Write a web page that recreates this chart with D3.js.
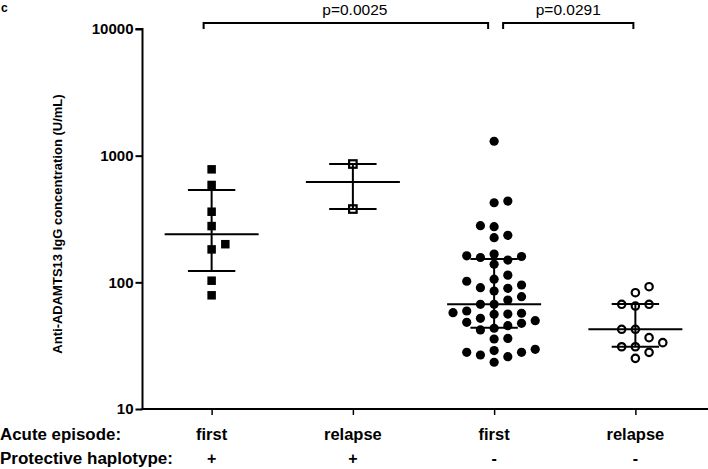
<!DOCTYPE html>
<html>
<head>
<meta charset="utf-8">
<script src="https://cdn.jsdelivr.net/npm/d3@7"></script>
<style>
  html, body { margin: 0; padding: 0; background: #fff; }
  svg { display: block; }
  text { font-family: "Liberation Sans", Arial, Helvetica, sans-serif; fill: #000; }
</style>
</head>
<body>
<svg id="chart" width="708" height="469"></svg>
<script>
// ---- data ----
const groups = ["g1", "g2", "g3", "g4"];
const episodeLabels = ["first", "relapse", "first", "relapse"];
const haplotypeLabels = ["+", "+", "-", "-"];
const yTicks = [10, 100, 1000, 10000];

const g1Values = [780, 587, 361, 278, 200, 182, 103, 79];
const g2Values = [859, 379];
const g3Values = [1300, 438, 425, 280, 275, 235, 225, 167, 162, 160, 157, 150, 139,
  114, 106, 102, 95.3, 90.7, 89.7, 85.4, 77, 72.5, 67.1, 67.1, 59.4, 57.6, 57, 56.2,
  55.9, 52, 49.8, 48.3, 47.5, 45.5, 43.4, 42.1, 36.1, 35.7, 29.6, 28.9, 28, 28, 26.7,
  25.9, 23.4];
const g4Values = [92.4, 82.8, 67.1, 67.1, 65, 42.6, 42.6, 36.6, 33.4, 31, 31, 28, 25.1];

const medians = [240, 620, 67, 42.6];
const lowerBars = [123, 379, 43.8, 31];
const upperBars = [536, 859, 153, 67.3];

const comparisons = [
  { from: "g1", to: "g3", label: "p=0.0025" },
  { from: "g3", to: "g4", label: "p=0.0291" }
];

// ---- layout ----
const svg = d3.select("#chart");
const x = d3.scalePoint().domain(groups).range([141, 706]).padding(0.5);
const y = d3.scaleLog().domain([10, 10000]).range([409, 29]);
const axisX = 142.5;

// y axis
const yAxis = d3.axisLeft(y).tickValues(yTicks).tickFormat(d3.format("d")).tickSize(7).tickPadding(2);
const ya = svg.append("g").attr("transform", `translate(${axisX},0)`).call(yAxis);
ya.select(".domain").attr("stroke", "#000").attr("stroke-width", 2).attr("d", `M-7,${y(10000)}H0V${y(10)}`);
ya.selectAll(".tick line").attr("stroke", "#000").attr("stroke-width", 2);
ya.selectAll(".tick text").style("font-size", "15px").style("font-weight", "bold")
  .style("font-family", "'Liberation Sans', Arial, sans-serif");

// x axis
const xAxis = d3.axisBottom(x).tickSize(6).tickFormat("");
const xa = svg.append("g").attr("transform", `translate(0,${y(10)})`).call(xAxis);
xa.select(".domain").attr("stroke", "#000").attr("stroke-width", 2).attr("d", `M${axisX - 1},0H708`);
xa.selectAll(".tick line").attr("stroke", "#000").attr("stroke-width", 1.5);

// y label
svg.append("text")
  .attr("transform", `translate(62,224) rotate(-90)`)
  .attr("text-anchor", "middle")
  .style("font-size", "13px").style("font-weight", "bold")
  .text("Anti-ADAMTS13 IgG concentration (U/mL)");

// panel label
svg.append("text").attr("x", 1).attr("y", 12).style("font-size", "12px").style("font-weight", "bold").text("c");

// bottom labels
const rowFont = "'Liberation Sans Narrow', 'Arial Narrow', 'Liberation Sans', Arial, sans-serif";
svg.append("text").attr("x", 0).attr("y", 440).style("font-size", "16px").style("font-weight", "bold")
  .style("font-family", rowFont).attr("textLength", 121).attr("lengthAdjust", "spacingAndGlyphs")
  .text("Acute episode:");
svg.append("text").attr("x", 0).attr("y", 464).style("font-size", "16px").style("font-weight", "bold")
  .style("font-family", rowFont).attr("textLength", 173).attr("lengthAdjust", "spacingAndGlyphs")
  .text("Protective haplotype:");
svg.selectAll(".ep").data(groups).enter().append("text")
  .attr("x", d => x(d)).attr("y", 440).attr("text-anchor", "middle")
  .style("font-size", "16.5px").style("font-weight", "bold").style("font-family", rowFont)
  .text((d, i) => episodeLabels[i]);
svg.selectAll(".hp").data(groups).enter().append("text")
  .attr("x", d => x(d)).attr("y", 464).attr("text-anchor", "middle")
  .style("font-size", "16px").style("font-weight", "bold").style("font-family", rowFont)
  .text((d, i) => haplotypeLabels[i]);

// swarm layout: ascending values, try offsets 0,+1,-1,+2,-2...
function swarm(values, minDist) {
  const order = values.map((v, i) => i).sort((a, b) => values[a] - values[b]);
  const placed = [];
  const cols = new Array(values.length);
  order.forEach(i => {
    const py = y(values[i]);
    const tries = [0, 1, -1, 2, -2, 3, -3, 4, -4];
    for (const c of tries) {
      const clash = placed.some(p => p.c === c && Math.abs(p.y - py) < minDist);
      if (!clash) { cols[i] = c; placed.push({ c, y: py }); break; }
    }
  });
  return values.map((v, i) => ({ v, c: cols[i] }));
}

const colStep = 13.7;
const allGroups = [
  { key: "g1", vals: g1Values, shape: "square", fill: true },
  { key: "g2", vals: g2Values, shape: "square", fill: false },
  { key: "g3", vals: g3Values, shape: "circle", fill: true },
  { key: "g4", vals: g4Values, shape: "circle", fill: false }
];

allGroups.forEach(g => {
  const pts = swarm(g.vals, g.shape === "square" ? 9 : 10);
  const cx = x(g.key);
  const sel = svg.append("g");
  if (g.shape === "square") {
    const s = g.fill ? 8.5 : 7.5;
    sel.selectAll("rect").data(pts).enter().append("rect")
      .attr("x", d => cx + d.c * colStep - s / 2)
      .attr("y", d => y(d.v) - s / 2)
      .attr("width", s).attr("height", s)
      .attr("fill", g.fill ? "#000" : "none")
      .attr("stroke", g.fill ? "none" : "#000")
      .attr("stroke-width", 2.2);
  } else {
    sel.selectAll("circle").data(pts).enter().append("circle")
      .attr("cx", d => cx + d.c * colStep)
      .attr("cy", d => y(d.v))
      .attr("r", g.fill ? 4.6 : 3.7)
      .attr("fill", g.fill ? "#000" : "none")
      .attr("stroke", g.fill ? "none" : "#000")
      .attr("stroke-width", 2.2);
  }
});

// median + IQR bars
const bars = svg.append("g").attr("stroke", "#000").attr("stroke-width", 2);
groups.forEach((k, i) => {
  const cx = x(k);
  bars.append("line").attr("x1", cx - 47).attr("x2", cx + 47).attr("y1", y(medians[i])).attr("y2", y(medians[i]));
  bars.append("line").attr("x1", cx - 23.7).attr("x2", cx + 23.7).attr("y1", y(lowerBars[i])).attr("y2", y(lowerBars[i]));
  bars.append("line").attr("x1", cx - 23.7).attr("x2", cx + 23.7).attr("y1", y(upperBars[i])).attr("y2", y(upperBars[i]));
  bars.append("line").attr("x1", cx).attr("x2", cx).attr("y1", y(lowerBars[i])).attr("y2", y(upperBars[i]));
});

// significance brackets
const bracketY = 23;
const br = svg.append("g");
const ends = [[-8, -6], [9, -2]];
comparisons.forEach((c, i) => {
  const x1 = x(c.from) + ends[i][0], x2 = x(c.to) + ends[i][1];
  br.append("path")
    .attr("d", `M${x1},${bracketY + 6}V${bracketY}H${x2}V${bracketY + 6}`)
    .attr("fill", "none").attr("stroke", "#000").attr("stroke-width", 2);
  br.append("text").attr("x", (x1 + x2) / 2 + (i === 0 ? 9 : 0)).attr("y", 15)
    .attr("text-anchor", "middle").style("font-size", "15.5px").text(c.label);
});
</script>
</body>
</html>
